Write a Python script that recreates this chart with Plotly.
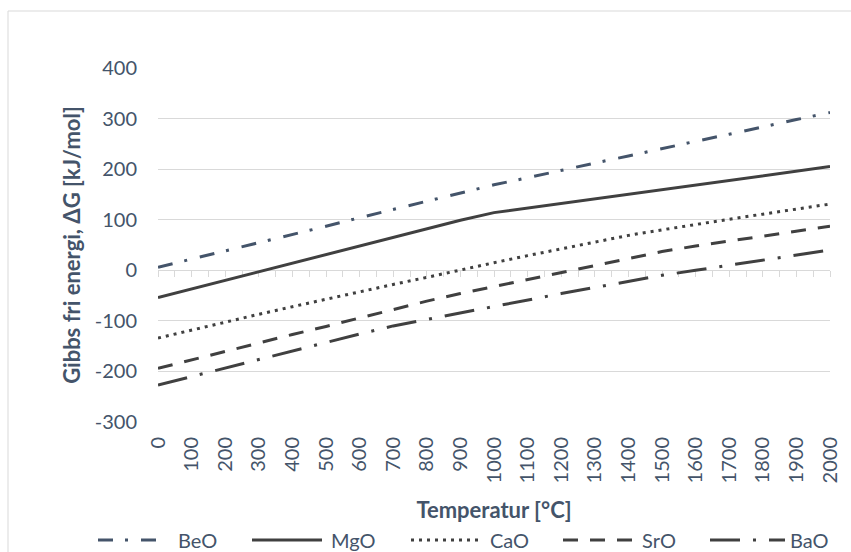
import plotly.graph_objects as go

# ---- data ----
temps = list(range(0, 2001, 100))
beo = [6, 22, 38, 55, 71, 87, 104, 120, 137, 153, 169, 183, 198, 212, 226, 241, 255, 269, 284, 298, 312]
mgo = [-54, -37, -20, -3, 14, 31, 48, 65, 82, 99, 114, 123, 132, 141, 150, 159, 168, 177, 187, 196, 205]
cao = [-134, -118, -102, -87, -72, -57, -42, -28, -14, 1, 15, 29, 42, 56, 69, 80, 91, 101, 111, 121, 131]
sro = [-194, -177, -160, -143, -127, -111, -94, -77, -61, -46, -32, -18, -4, 10, 24, 37, 48, 58, 68, 78, 87]
bao = [-227, -210, -193, -176, -159, -142, -126, -110, -97, -84, -71, -58, -46, -34, -22, -10, 0, 10, 20, 30, 40]
names = ["BeO", "MgO", "CaO", "SrO", "BaO"]
x_tick_labels = [str(t) for t in temps]
y_ticks = list(range(-300, 401, 100))
y_tick_labels = [str(v) for v in y_ticks]

colors = ["#44546A", "#404040", "#404040", "#404040", "#404040"]
dashes = ["15px,12px,3px,13px", "solid", "3px,5px", "15px,12px", "30px,13px,3px,13px"]
values = [beo, mgo, cao, sro, bao]

FONT = "Lato"
TXT = "#44546A"
GRID = "#D9D9D9"

fig = go.Figure()
for n, v, c, d in zip(names, values, colors, dashes):
    fig.add_trace(go.Scatter(x=temps, y=v, mode="lines", name=n,
                             line=dict(color=c, width=3, dash=d),
                             showlegend=False, hoverinfo="x+y+name"))

# helper trace so the zero-crossing category axis (ticks every 50) is drawn
fig.add_trace(go.Scatter(x=[temps[0], temps[-1]], y=[0, 0], xaxis="x2", mode="lines",
                         line=dict(width=1, color=GRID), opacity=0,
                         showlegend=False, hoverinfo="skip"))

# plot area in px: x 158..830, y 68..422
L, R, T, B = 158, 830, 68, 422
W, H = R - L, B - T
def px(x):
    return (x - L) / W
def py(y):
    return (B - y) / H

fig.update_layout(
    width=851, height=552,
    margin=dict(l=L, r=851 - R, t=T, b=552 - B, autoexpand=False),
    paper_bgcolor="white", plot_bgcolor="white",
    font=dict(family=FONT, color=TXT, size=20),
    xaxis=dict(range=[0, 2000], tickvals=temps, ticktext=x_tick_labels,
               tickangle=-90, showgrid=False, showline=False, zeroline=False,
               ticks="", ticklabelstandoff=10,
               tickfont=dict(size=20, color=TXT),
               title=dict(text="<b>Temperatur [°C]</b>", font=dict(size=22, color=TXT),
                          standoff=20)),
    xaxis2=dict(range=[0, 2000], overlaying="x", anchor="free", position=300 / 700,
                side="bottom", tick0=0, dtick=50, ticks="outside", ticklen=6,
                tickcolor=GRID, tickwidth=1, showline=True, linecolor=GRID, linewidth=1,
                showticklabels=False, showgrid=False, zeroline=False,
                layer="below traces"),
    yaxis=dict(range=[-300, 400], tickvals=y_ticks, ticktext=y_tick_labels,
               showgrid=True, gridcolor=GRID,
               gridwidth=1, zeroline=False, showline=False, ticks="",
               ticklabelstandoff=20, tickfont=dict(size=20, color=TXT),
               title=dict(text="<b>Gibbs fri energi, ΔG [kJ/mol]</b>",
                          font=dict(size=22, color=TXT), standoff=8)),
    showlegend=False,
)

# outer chart border
fig.add_shape(type="rect", xref="paper", yref="paper",
              x0=px(8), x1=px(870), y0=py(580), y1=py(11),
              line=dict(color=GRID, width=1), fillcolor="rgba(0,0,0,0)", layer="below")

# manual legend (line samples + labels)
leg_y = py(540)
leg_items = [(98, 159, 176), (252, 322, 329), (411, 483, 488), (563, 637, 640), (710, 785, 788)]
for (x0, x1, xt), n, c, d in zip(leg_items, names, colors, dashes):
    fig.add_shape(type="line", xref="paper", yref="paper",
                  x0=px(x0), x1=px(x1), y0=leg_y, y1=leg_y,
                  line=dict(color=c, width=3, dash=d))
    fig.add_annotation(xref="paper", yref="paper", x=px(xt), y=leg_y,
                       text=n, showarrow=False, xanchor="left", yanchor="middle",
                       font=dict(size=20, color=TXT, family=FONT))

fig.write_html("out.html")
